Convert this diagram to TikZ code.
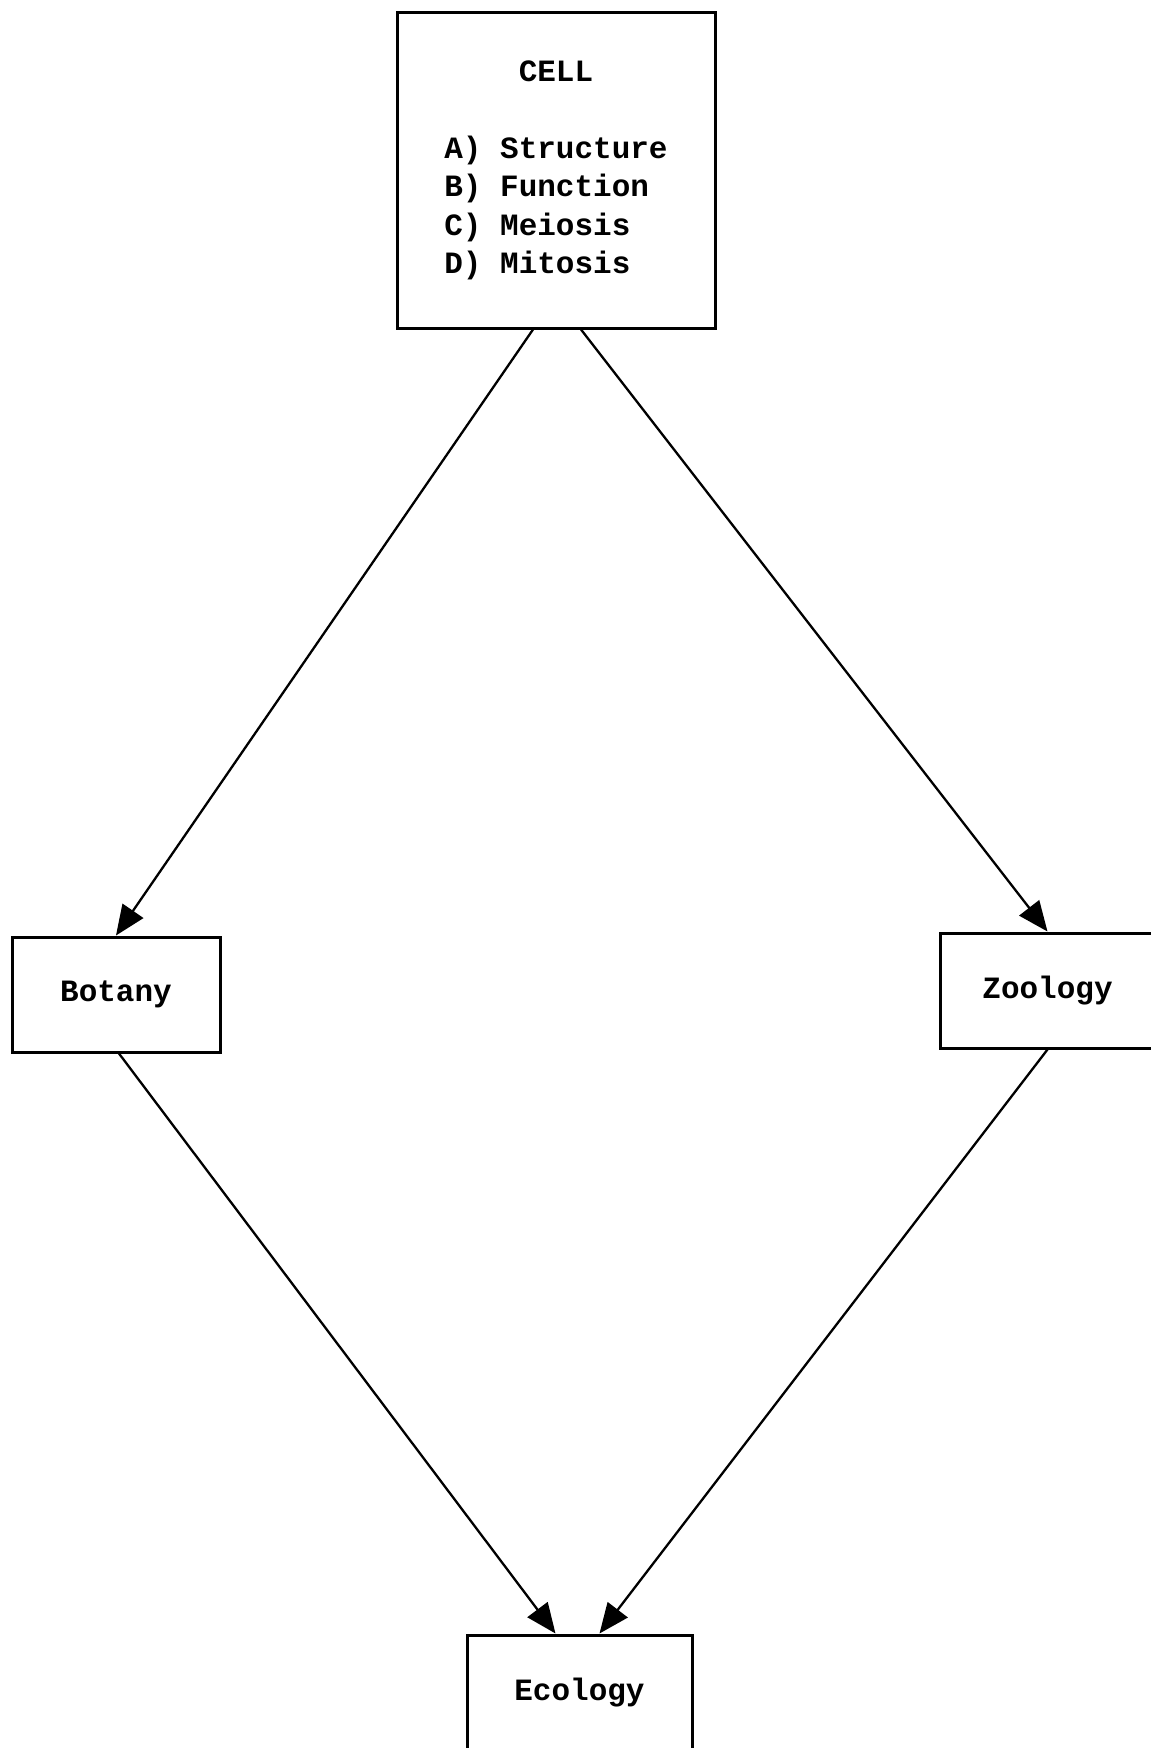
\documentclass[tikz,border=0pt]{standalone}
\usepackage{fontspec}
\setmonofont{Liberation Mono}
\usetikzlibrary{arrows.meta}
\begin{document}
\begin{tikzpicture}[x=1pt,y=-1pt,
  box/.style={draw,line width=3pt,rectangle,inner sep=0pt,
    font=\ttfamily\bfseries\fontsize{31}{38.5}\selectfont,align=center},
  link/.style={line width=2.3pt,-{Triangle[length=30pt,width=25pt]}}]
  \useasboundingbox (0,0) rectangle (1151,1748);
  \clip (0,0) rectangle (1151,1748);

  % topic boxes
  \node[box,minimum width=318pt,minimum height=316pt] (cell) at (556,170)
    {\begin{tabular}{@{}l@{}}\multicolumn{1}{c}{CELL}\\[38.5pt]
      A) Structure\\ B) Function\\ C) Meiosis\\ D) Mitosis\end{tabular}};
  \node[box,minimum width=208pt,minimum height=115pt] (botany) at (116,994.5) {Botany};
  \node[box,minimum width=215pt,minimum height=115pt] (zoology) at (1047.5,990.5) {Zoology};
  \node[box,minimum width=225pt,minimum height=115pt] (ecology) at (579.5,1692.5) {Ecology};

  % connectors
  \draw[link] ([xshift=-23pt]cell.south) -- (botany.north);
  \draw[link] ([xshift=25pt]cell.south) -- (zoology.north);
  \draw[link] ([xshift=3pt]botany.south) -- ([xshift=-24pt]ecology.north);
  \draw[link] (zoology.south) -- ([xshift=20pt]ecology.north);
\end{tikzpicture}
\end{document}
